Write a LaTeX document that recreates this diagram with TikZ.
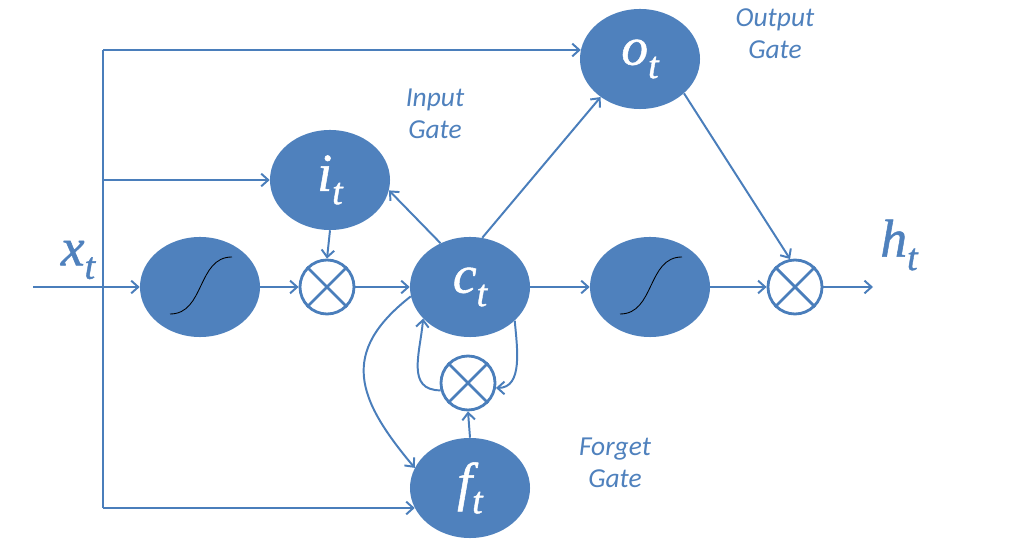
\documentclass[tikz,border=0pt]{standalone}
\usepackage{fontspec}
\setmainfont{Carlito}
\newfontfamily\varfont{Liberation Serif Italic}[FakeBold=1]
\usetikzlibrary{shapes.geometric,arrows.meta}
\definecolor{lstmblue}{RGB}{79,129,189}
\definecolor{lineblue}{RGB}{74,126,187}
\newcommand\gv[1]{{\fontsize{38}{38}\varfont #1\raisebox{-0.25em}{\fontsize{27}{27}\selectfont t}}}
\tikzset{
  gate/.style={ellipse,fill=lstmblue,draw=none,minimum width=3cm,minimum height=2.5cm,
    inner sep=0pt,text=white},
  mult/.style={circle,draw=lineblue,line width=2pt,minimum size=1.35cm,inner sep=0pt,fill=white},
  wire/.style={lineblue,line width=1.4pt},
  flow/.style={wire,-{Straight Barb[length=5pt,width=9pt]}},
  gatename/.style={text=lstmblue,font=\fontsize{19.5}{22.5}\selectfont\itshape,align=center},
  varname/.style={text=lstmblue},
  sig/.style={black,line width=0.6pt}
}
\begin{document}
\begin{tikzpicture}[x=0.025cm,y=0.025cm]
\useasboundingbox (0,0) rectangle (1024,552);

\node[gate] (ot) at (640,493) {\gv{o}};
\node[gate] (it) at (330,372) {\gv{i}};
\node[gate] (sa) at (200,265) {};
\node[gate] (ct) at (470,265) {\gv{c}};
\node[gate] (sb) at (650,265) {};
\node[gate] (ft) at (470,64) {\gv{f}};
\node[mult] (ma) at (327,265) {};
\node[mult] (mf) at (468,169) {};
\node[mult] (mo) at (795,265) {};

\node[varname] (xt) at (78,292) {\gv{x}};
\node[varname] (ht) at (899,307) {\gv{h}};
\node[gatename] (ig) at (435,438) {Input\\Gate};
\node[gatename] (og) at (775,518) {Output\\Gate};
\node[gatename] (fg) at (615,89) {Forget\\Gate};

\coordinate (xin) at (33,265);
\coordinate (top) at (103,502);
\coordinate (mid) at (103,372);
\coordinate (bot) at (103,44);
\coordinate (hout) at (873,265);

\foreach \m in {ma,mf,mo}
  \draw[wire,line width=2pt] (\m.north east) -- (\m.south west) (\m.north west) -- (\m.south east);
\foreach \s in {sa,sb}
  \draw[sig,shift={(\s.center)}] (-30,-27) .. controls (5,-27) and (-3,30) .. (32,30);

\draw[wire] (top) -- (bot);
\draw[flow] (top) -- (top -| ot.171);
\draw[flow] (mid) -- (it.west);
\draw[flow] (bot) -- (bot -| ft.200);
\draw[flow] (xin) -- (sa.west);
\draw[flow] (sa.east) -- (ma.west);
\draw[flow] (it.south) -- (ma.north);
\draw[flow] (ma.east) -- (ct.west);
\draw[flow] (ct.124) -- (it.-10);
\draw[flow] (ct.76) -- (ot.224);
\draw[flow] (ot.-38) -- (mo.100);
\draw[flow] (ct.east) -- (sb.west);
\draw[flow] (sb.east) -- (mo.west);
\draw[flow] (mo.east) -- (hout);
\draw[flow] (ft.north) -- (mf.south);
\draw[flow] (mf.195) to[out=180,in=-95,looseness=1.2] (ct.214);
\draw[flow] (ct.-37) to[out=-85,in=0] (mf.-10);
\draw[flow] (ct.189) to[out=218,in=130,looseness=1.35] (ft.160);

\end{tikzpicture}
\end{document}
